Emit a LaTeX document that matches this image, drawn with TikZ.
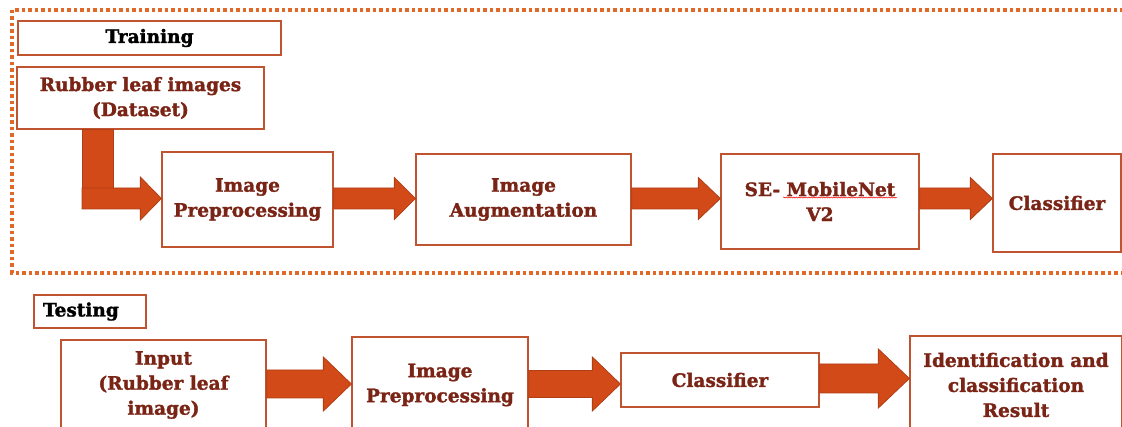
\documentclass[tikz,border=0pt]{standalone}
\usepackage{fontspec}
\setmainfont{DejaVu Serif}[BoldFeatures={FakeBold=1.6}]
\usepackage{xcolor}
\usepackage{tikz}
\usetikzlibrary{arrows.meta}
\usetikzlibrary{calc}
\usetikzlibrary{decorations.pathmorphing}
\definecolor{boxline}{RGB}{192,84,48}
\definecolor{boxtext}{RGB}{122,36,22}
\definecolor{arrowfill}{RGB}{210,74,24}
\definecolor{arrowline}{RGB}{176,62,22}
\definecolor{frameline}{RGB}{226,104,40}
\tikzstyle{box}=[draw=boxline,line width=1.3pt,fill=white,align=center,inner sep=0pt,
  text=boxtext,font=\fontsize{18.5}{25}\selectfont\bfseries]
\tikzstyle{lbox}=[box,text=black]
\tikzstyle{barrow}=[fill=arrowfill,draw=arrowline,line width=.8pt]
\newcommand\blockarrow[5]{%
  \draw[barrow] let \p1=(#1), \p2=(#2) in
    (\x1,\y2+#3) -- (\x2-#5,\y2+#3) -- (\x2-#5,\y2+#4) -- (\x2,\y2)
    -- (\x2-#5,\y2-#4) -- (\x2-#5,\y2-#3) -- (\x1,\y2-#3) -- cycle;}

\begin{document}
\begin{tikzpicture}[x=1pt,y=-1pt]
	\useasboundingbox (0,0) rectangle (1122,427);
	\clip (0,0) rectangle (1122,427);
	\draw[frameline,line width=3.5pt,dash pattern=on 3.5pt off 3pt] (12,10) rectangle (1140,273);
	% training
	\node[lbox,minimum width=263pt,minimum height=34pt] (train) at (149.5,38) {Training};
	\node[box,minimum width=247pt,minimum height=62pt] (data) at (140.5,98) {Rubber leaf images\\(Dataset)};
	\node[box,minimum width=171pt,minimum height=95pt] (prep) at (247.5,199.5) {Image\\Preprocessing};
	\node[box,minimum width=215pt,minimum height=91pt] (aug) at (523.5,199.5) {Image\\Augmentation};
	\node[box,minimum width=198pt,minimum height=95pt] (senet) at (820,201.5) {SE- MobileNet\\V2};
	\node[box,minimum width=128pt,minimum height=98pt] (clf) at (1057,203) {Classifier};
	\draw[red,line width=.5pt,decorate,decoration={snake,amplitude=.6pt,segment length=2.5pt}]
		($(senet.center)+(-37,-4)$) -- ++(114,0);
	\coordinate (trow) at (0,198.5);
	\coordinate (elbow) at (97.5,198.5);
	\draw[barrow] (elbow |- data.south) ++(-15.5,0) rectangle ($(elbow)+(15.5,3.5)$);
	\blockarrow{$(elbow)+(-15.5,0)$}{prep.west |- trow}{10.5pt}{21.5pt}{21pt}
	\blockarrow{prep.east |- trow}{aug.west |- trow}{10.5pt}{21pt}{21pt}
	\blockarrow{aug.east |- trow}{senet.west |- trow}{10.5pt}{21pt}{22pt}
	\blockarrow{senet.east |- trow}{clf.west |- trow}{10.5pt}{21pt}{22pt}
	% testing
	\node[lbox,minimum height=33pt,text width=94pt,align=left,inner xsep=9pt] (test) at (90,311.5) {Testing};
	\node[box,minimum width=205pt,minimum height=90pt] (input) at (163.5,385) {Input\\(Rubber leaf\\image)};
	\node[box,minimum width=176pt,minimum height=96pt] (tprep) at (440,385) {Image\\Preprocessing};
	\node[box,minimum width=198pt,minimum height=54pt] (tclf) at (720,380) {Classifier};
	\node[box,minimum width=212pt,minimum height=98pt] (result) at (1016,385) {Identification and\\classification\\Result};
	\coordinate (brow) at (0,384);
	\coordinate (crow) at (0,378.5);
	\blockarrow{input.east |- brow}{tprep.west |- brow}{14pt}{27pt}{28pt}
	\blockarrow{tprep.east |- brow}{tclf.west |- brow}{13.5pt}{27pt}{28pt}
	\blockarrow{tclf.east |- crow}{result.west |- crow}{14.5pt}{29.5pt}{31pt}
\end{tikzpicture}
\end{document}
